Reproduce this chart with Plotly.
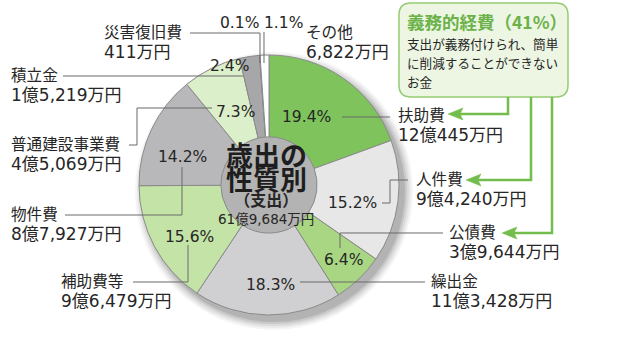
import plotly.graph_objects as go

# ---------------- data ----------------
names = ["扶助費", "人件費", "公債費", "繰出金", "補助費等", "物件費",
         "普通建設事業費", "積立金", "災害復旧費", "その他"]
values_man = [120445, 94240, 39644, 113428, 96479, 87927, 45069, 15219, 411, 6822]  # 万円
percents = ["19.4", "15.2", "6.4", "18.3", "15.6", "14.2", "7.3", "2.4", "0.1", "1.1"]
colors = ["#7fc35c", "#e7e7e8", "#a9d683", "#d0d0d2", "#c3e3a7", "#b8b8ba",
          "#dcefcb", "#a7a7a9", "#a7a7a9", "#ffffff"]
center_title = ["歳出の", "性質別"]
center_sub = "（支出）"
box_title = "義務的経費（41%）"
box_lines = ["支出が義務付けられ、簡単", "に削減することができない", "お金"]

W, H = 619, 350
FONT = "Noto Sans CJK JP"
MIX = "DejaVu Sans, Noto Sans CJK JP"
INK = "#262626"
GREEN = "#72bd4c"


def fmt_man(v):
    oku, man = divmod(v, 10000)
    s = ""
    if oku:
        s += f"{oku}億"
    if man:
        s += f"{man:,}万"
    return s + "円"


def px(x):
    return x / W


def py(y):
    return 1 - y / H


fig = go.Figure()

# pie geometry (pixels)
CX, CY, R = 269, 185, 130
fig.add_trace(go.Pie(
    labels=names, values=values_man, sort=False, direction="clockwise",
    rotation=0, hole=0.37, textinfo="none", hoverinfo="skip",
    marker=dict(colors=colors, line=dict(color="#8a8a8a", width=1)),
    domain=dict(x=[px(CX - R), px(CX + R)], y=[py(CY + R), py(CY - R)]),
    showlegend=False,
))

shapes = []
# soft shadow
for rr, a in [(139, 0.04), (137, 0.05), (135, 0.06), (133, 0.08), (131, 0.10)]:
    sx, sy = CX + 5, CY + 6
    shapes.append(dict(type="circle", xref="paper", yref="paper", layer="below",
                       x0=px(sx - rr), x1=px(sx + rr), y0=py(sy + rr), y1=py(sy - rr),
                       fillcolor=f"rgba(0,0,0,{a})", line=dict(width=0)))


def path(pts, color="#6a6a6a", width=1, fill=None, closed=False):
    d = "M " + " L ".join(f"{px(x):.5f},{py(y):.5f}" for x, y in pts)
    if closed:
        d += " Z"
    s = dict(type="path", xref="paper", yref="paper", path=d,
             line=dict(color=color, width=width))
    if fill:
        s["fillcolor"] = fill
    return s


# leader lines
leaders = [
    [(342, 117), (390, 117)],                              # 扶助費
    [(382, 203), (390, 203), (390, 180), (408, 180)],      # 人件費
    [(340, 248), (340, 233), (443, 233)],                  # 公債費
    [(300, 282), (425, 282)],                              # 繰出金
    [(133, 282), (188, 282), (188, 245)],                  # 補助費等
    [(65, 215), (182, 215), (182, 167)],                   # 物件費
    [(129, 145), (137, 145), (137, 108), (212, 108)],      # 普通建設事業費
    [(63, 76), (243, 76)],                                 # 積立金
    [(190, 33), (260, 33), (260, 63)],                     # 災害復旧費
    [(264, 32), (264, 63)],                                # その他
]
for p in leaders:
    shapes.append(path(p))

# green box (rounded)
bx0, by0, bx1, by1, r = 399, 3, 568, 97, 12
box_d = (f"M {px(bx0 + r)},{py(by0)} L {px(bx1 - r)},{py(by0)} "
         f"Q {px(bx1)},{py(by0)} {px(bx1)},{py(by0 + r)} "
         f"L {px(bx1)},{py(by1 - r)} Q {px(bx1)},{py(by1)} {px(bx1 - r)},{py(by1)} "
         f"L {px(bx0 + r)},{py(by1)} Q {px(bx0)},{py(by1)} {px(bx0)},{py(by1 - r)} "
         f"L {px(bx0)},{py(by0 + r)} Q {px(bx0)},{py(by0)} {px(bx0 + r)},{py(by0)} Z")
shapes.append(dict(type="path", xref="paper", yref="paper", path=box_d,
                   fillcolor="#edf6e3", line=dict(color="#95cb72", width=1.5)))

# green arrows
arrows = [
    [(508, 97), (508, 114), (460, 114)],
    [(531, 97), (531, 180), (478, 180)],
    [(552, 97), (552, 233), (514, 233)],
]
for p in arrows:
    shapes.append(path(p, color=GREEN, width=2.5))
    tx, ty = p[-1]
    tip = tx - 12
    shapes.append(path([(tip, ty), (tx + 3, ty - 6), (tx, ty), (tx + 3, ty + 6)],
                       color=GREEN, width=0.5, fill=GREEN, closed=True))

annotations = []


def text(x, y, s, size=15, xanchor="left", color=INK, weight="normal", family=FONT):
    annotations.append(dict(x=px(x), y=py(y), xref="paper", yref="paper", text=s,
                            showarrow=False, xanchor=xanchor, yanchor="middle",
                            borderpad=0, align="left" if xanchor == "left" else "center",
                            font=dict(family=family, size=size, color=color, weight=weight)))


# category labels: (x, y of name line)
label_pos = [
    (397, 116), (415, 180), (448, 233), (430, 282),
    (60, 282), (10, 215), (10, 145), (10, 76),
    (103, 33), (305, 33),
]
for nm, v, (lx, ny) in zip(names, values_man, label_pos):
    block = f"{nm}<br><span style='font-size:17px'>{fmt_man(v)}</span>"
    text(lx, ny + 10, block, size=15.6, family=MIX)

# percent labels (centre positions)
pct_pos = [(306, 117), (352, 203), (343, 260), (270, 285), (189, 237),
           (182, 157), (235, 112), (230, 66), (239, 23), (283, 23)]
for pc, (x, y) in zip(percents, pct_pos):
    text(x, y, pc + "%", size=15.5, xanchor="center", family=MIX)

# centre texts
title_block = "<br>".join(f"<span style='font-size:27px'>{t}</span>" for t in center_title)
text(266, 166, title_block, size=18.5, xanchor="center", color="#1e1e1e", weight="bold")
sub_block = (f"<span style='font-size:16px;font-weight:bold'>{center_sub}</span><br>"
             f"{fmt_man(sum(values_man))}")
text(266, 209, sub_block, size=13.5, xanchor="center", family=MIX)

# box texts
text(406, 22, box_title, size=17.5, color="#6cb24a", weight="bold")
for s, y in zip(box_lines, [43, 62, 81]):
    text(406, y, s, size=12.6)

fig.update_layout(
    width=W, height=H, margin=dict(l=0, r=0, t=0, b=0),
    paper_bgcolor="white", plot_bgcolor="white",
    shapes=shapes, annotations=annotations, hovermode=False,
)
fig.write_html("out.html")
